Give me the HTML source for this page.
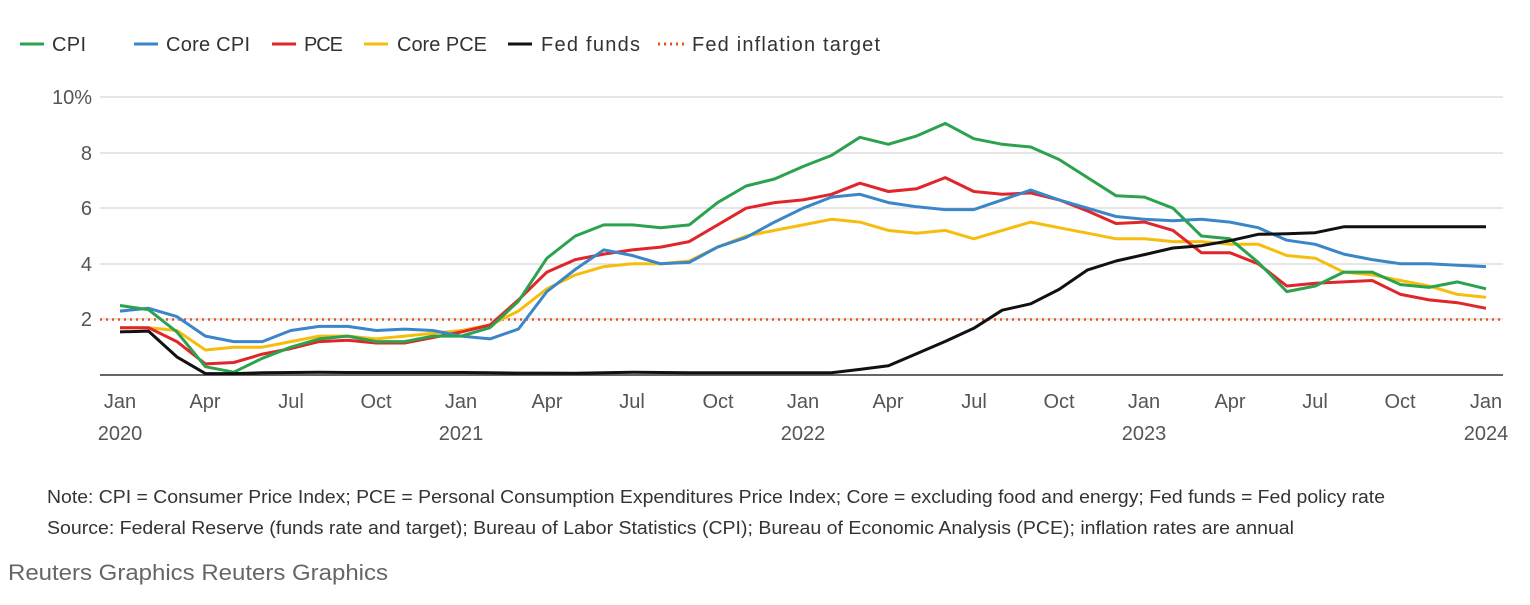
<!DOCTYPE html>
<html><head><meta charset="utf-8"><style>
body{margin:0;background:#fff;width:1530px;height:600px;overflow:hidden;font-family:"Liberation Sans",sans-serif}
</style></head><body>
<svg width="1530" height="600" xmlns="http://www.w3.org/2000/svg" font-family="Liberation Sans, sans-serif">
<g font-size="20" fill="#333">
<line x1="20" y1="44" x2="44" y2="44" stroke="#2ca24f" stroke-width="3"/><text x="52" y="51" textLength="34">CPI</text>
<line x1="134" y1="44" x2="158" y2="44" stroke="#3a86c8" stroke-width="3"/><text x="166" y="51" textLength="84">Core CPI</text>
<line x1="272" y1="44" x2="296" y2="44" stroke="#e0262b" stroke-width="3"/><text x="304" y="51" textLength="39">PCE</text>
<line x1="364" y1="44" x2="388" y2="44" stroke="#f6bd0f" stroke-width="3"/><text x="397" y="51" textLength="90">Core PCE</text>
<line x1="508" y1="44" x2="532" y2="44" stroke="#111" stroke-width="3"/><text x="541" y="51" textLength="99">Fed funds</text>
<line x1="658" y1="44" x2="684" y2="44" stroke="#e8501c" stroke-width="3" stroke-dasharray="2,4"/><text x="692" y="51" textLength="188">Fed inflation target</text>
</g>
<g stroke="#ccc" stroke-width="1">
<line x1="100" y1="97" x2="1503" y2="97"/><line x1="100" y1="153" x2="1503" y2="153"/>
<line x1="100" y1="208" x2="1503" y2="208"/><line x1="100" y1="264" x2="1503" y2="264"/>
<line x1="100" y1="319" x2="1503" y2="319"/>
</g>
<line x1="100" y1="375" x2="1503" y2="375" stroke="#333" stroke-width="1.5"/>
<g font-size="20" fill="#555" text-anchor="end">
<text x="92" y="104">10%</text><text x="92" y="160">8</text><text x="92" y="215">6</text><text x="92" y="271">4</text><text x="92" y="326">2</text>
</g>
<g font-size="20" fill="#555" text-anchor="middle">
<text x="120" y="408">Jan</text><text x="120" y="440">2020</text>
<text x="205" y="408">Apr</text><text x="291" y="408">Jul</text><text x="376" y="408">Oct</text>
<text x="461" y="408">Jan</text><text x="461" y="440">2021</text>
<text x="547" y="408">Apr</text><text x="632" y="408">Jul</text><text x="718" y="408">Oct</text>
<text x="803" y="408">Jan</text><text x="803" y="440">2022</text>
<text x="888" y="408">Apr</text><text x="974" y="408">Jul</text><text x="1059" y="408">Oct</text>
<text x="1144" y="408">Jan</text><text x="1144" y="440">2023</text>
<text x="1230" y="408">Apr</text><text x="1315" y="408">Jul</text><text x="1400" y="408">Oct</text>
<text x="1486" y="408">Jan</text><text x="1486" y="440">2024</text>
</g>
<line x1="100" y1="319.5" x2="1503" y2="319.5" stroke="#e8501c" stroke-width="2.5" stroke-dasharray="2,4"/>
<g id="lines" fill="none" stroke-width="3" stroke-linejoin="round"></g>
<g font-size="18" fill="#333">
<text x="47" y="503" textLength="1338" lengthAdjust="spacingAndGlyphs">Note: CPI = Consumer Price Index; PCE = Personal Consumption Expenditures Price Index; Core = excluding food and energy; Fed funds = Fed policy rate</text>
<text x="47" y="534" textLength="1247" lengthAdjust="spacingAndGlyphs">Source: Federal Reserve (funds rate and target); Bureau of Labor Statistics (CPI); Bureau of Economic Analysis (PCE); inflation rates are annual</text>
</g>
<text x="8" y="580" font-size="22" fill="#666" textLength="380" lengthAdjust="spacingAndGlyphs">Reuters Graphics Reuters Graphics</text>
</svg>
<script>
var S=[
["#f6bd0f",[1.7,1.7,1.6,0.9,1.0,1.0,1.2,1.4,1.4,1.3,1.4,1.5,1.6,1.8,2.3,3.1,3.6,3.9,4.0,4.0,4.1,4.6,5.0,5.2,5.4,5.6,5.5,5.2,5.1,5.2,4.9,5.2,5.5,5.3,5.1,4.9,4.9,4.8,4.8,4.7,4.7,4.3,4.2,3.7,3.6,3.4,3.2,2.9,2.8]],
["#e0262b",[1.7,1.7,1.2,0.4,0.45,0.75,0.95,1.2,1.25,1.15,1.15,1.35,1.55,1.8,2.7,3.7,4.15,4.35,4.5,4.6,4.8,5.4,6.0,6.2,6.3,6.5,6.9,6.6,6.7,7.1,6.6,6.5,6.55,6.3,5.9,5.45,5.5,5.2,4.4,4.4,4.0,3.2,3.3,3.35,3.4,2.9,2.7,2.6,2.4]],
["#3a86c8",[2.3,2.4,2.1,1.4,1.2,1.2,1.6,1.75,1.75,1.6,1.65,1.6,1.4,1.3,1.65,3.0,3.8,4.5,4.3,4.0,4.05,4.6,4.95,5.5,6.0,6.4,6.5,6.2,6.05,5.95,5.95,6.3,6.65,6.3,6.0,5.7,5.6,5.55,5.6,5.5,5.3,4.85,4.7,4.35,4.15,4.0,4.0,3.95,3.9]],
["#2ca24f",[2.5,2.35,1.55,0.3,0.1,0.6,1.0,1.3,1.4,1.2,1.2,1.4,1.4,1.7,2.65,4.2,5.0,5.4,5.4,5.3,5.4,6.2,6.8,7.05,7.5,7.9,8.55,8.3,8.6,9.05,8.5,8.3,8.2,7.75,7.1,6.45,6.4,6.0,5.0,4.9,4.05,3.0,3.2,3.7,3.7,3.25,3.15,3.35,3.1]],
["#111",[1.55,1.58,0.65,0.05,0.05,0.08,0.09,0.1,0.09,0.09,0.09,0.09,0.09,0.08,0.07,0.07,0.06,0.08,0.1,0.09,0.08,0.08,0.08,0.08,0.08,0.08,0.2,0.33,0.77,1.21,1.68,2.33,2.56,3.08,3.78,4.10,4.33,4.57,4.65,4.83,5.06,5.08,5.12,5.33,5.33,5.33,5.33,5.33,5.33]]];
var g=document.getElementById('lines');
S.forEach(function(s){var p=s[1].map(function(v,i){return (120+i*1366/48).toFixed(1)+','+(375-v*27.8).toFixed(1)}).join(' ');
var e=document.createElementNS('http://www.w3.org/2000/svg','polyline');e.setAttribute('points',p);e.setAttribute('stroke',s[0]);g.appendChild(e);});
</script>
</body></html>
